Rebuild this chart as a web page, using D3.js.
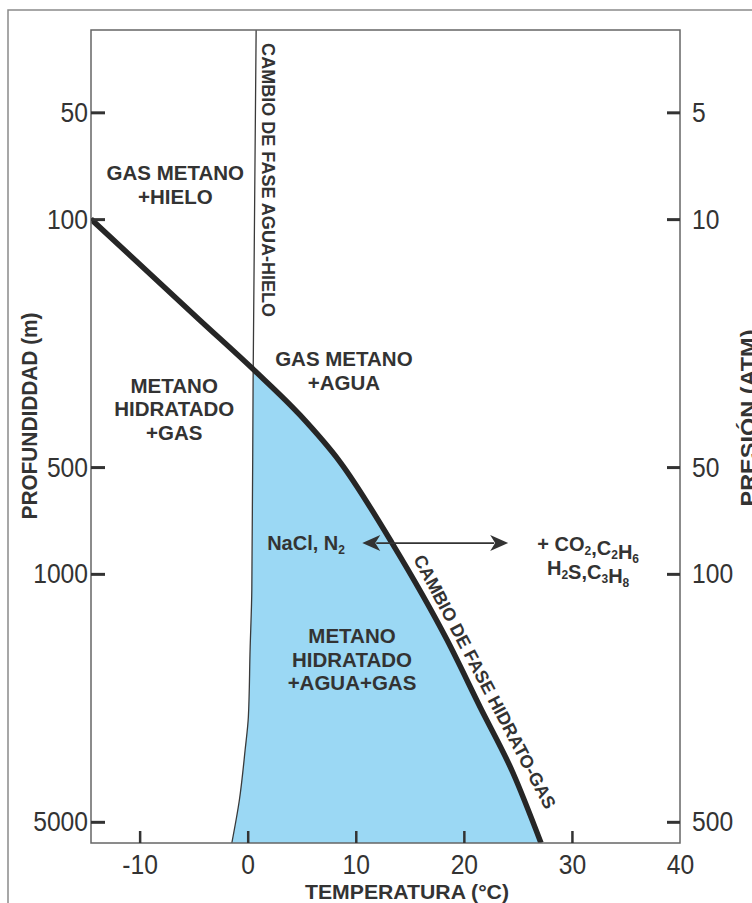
<!DOCTYPE html>
<html>
<head>
<meta charset="utf-8">
<script src="https://cdn.jsdelivr.net/npm/d3@7/dist/d3.min.js"></script>
<style>
  html,body{margin:0;padding:0;background:#fff;}
  svg{display:block;}
  .reg{font-family:"Liberation Sans",Arial,Helvetica,sans-serif;}
  .bold{font-family:"Liberation Sans",Arial,Helvetica,sans-serif;font-weight:bold;}
</style>
</head>
<body>
<script>
// ---------- data ----------
const tempTicks = [-10, 0, 10, 20, 30, 40];
const depthTicks = [50, 100, 500, 1000, 5000];
const pressureTicks = [5, 10, 50, 100, 500];

// hydrate-gas phase boundary (temperature °C, depth m)
const hydrateT     = [-14.5, -4.4, 0.68, 4.85, 8.55, 13.36, 18.45, 21.5, 24.55, 27.14];
const hydrateDepth = [100,   193,  268,  357,  484,  819,   1537,  2373, 3642,  5737];

// water-ice phase boundary
const iceT     = [0.78, 0.5, 0.38, 0.22, 0.06, -0.24, -0.77, -1.47];
const iceDepth = [29.3, 284, 1111, 1640, 2533, 3138,  4340,  5737];

const regionLabels = [
  {lines: ["GAS METANO", "+HIELO"], t: -6.7, d: 77.6},
  {lines: ["METANO", "HIDRATADO", "+GAS"], t: -6.8, d: 309},
  {lines: ["GAS METANO", "+AGUA"], t: 8.9, d: 260},
  {lines: ["METANO", "HIDRATADO", "+AGUA+GAS"], t: 9.65, d: 1567}
];

// ---------- layout ----------
const W = 752, H = 903;
const L = 91, R = 680, T = 30, B = 843;
const ink = "#333";

const x = d3.scaleLinear().domain([-14.5, 40]).range([L, R]);
const y = d3.scaleLog().domain([29.3, 5737]).range([T, B]);
const yP = d3.scaleLog().domain([2.93, 573.7]).range([T, B]);

const svg = d3.select("body").append("svg").attr("width", W).attr("height", H);

// outer frame
svg.append("rect").attr("x", 8).attr("y", 10).attr("width", 820).attr("height", 960)
  .attr("fill", "none").attr("stroke", "#8a8a8a").attr("stroke-width", 1.5);

const defs = svg.append("defs");
defs.append("clipPath").attr("id", "plotclip").append("rect")
  .attr("x", L).attr("y", T).attr("width", R - L).attr("height", B - T);

const hydrate = hydrateT.map((t, i) => ({t, d: hydrateDepth[i]}));
const ice = iceT.map((t, i) => ({t, d: iceDepth[i]}));

const hydLine = d3.line().x(p => x(p.t)).y(p => y(p.d)).curve(d3.curveMonotoneX);
const iceLine = d3.line().x(p => x(p.t)).y(p => y(p.d)).curve(d3.curveMonotoneY);

// region right of ice line
defs.append("clipPath").attr("id", "iceclip").append("path")
  .attr("d", iceLine(ice) + `L${R},${B}L${R},${T}Z`);

const g = svg.append("g").attr("clip-path", "url(#plotclip)");

// blue hydrate stability field: left of hydrate curve, right of ice line
g.append("path")
  .attr("d", hydLine(hydrate) + `L${L},${B}L${L},${y(hydrate[0].d)}Z`)
  .attr("fill", "#9bd8f4")
  .attr("clip-path", "url(#iceclip)");

// ice line
g.append("path").attr("d", iceLine(ice)).attr("fill", "none")
  .attr("stroke", "#3a3a3a").attr("stroke-width", 1.3);

// hydrate curve
g.append("path").attr("d", hydLine(hydrate)).attr("fill", "none")
  .attr("stroke", "#262626").attr("stroke-width", 5.5);

// plot frame
svg.append("rect").attr("x", L).attr("y", T).attr("width", R - L).attr("height", B - T)
  .attr("fill", "none").attr("stroke", "#666").attr("stroke-width", 1.5);

// condensed look (narrow face emulation)
function condense(sel, f) {
  sel.each(function() {
    const w = this.getComputedTextLength();
    d3.select(this).attr("textLength", w * f).attr("lengthAdjust", "spacingAndGlyphs");
  });
}

// axes
function styleAxis(sel, w) {
  sel.select(".domain").remove();
  sel.selectAll(".tick line").attr("stroke", ink).attr("stroke-width", w);
  const tx = sel.selectAll(".tick text").attr("class", "reg").attr("fill", ink).attr("font-size", 28);
  condense(tx, 0.88);
}
const fmt = d => String(d);
const ax = svg.append("g").attr("transform", `translate(0,${B})`)
  .call(d3.axisBottom(x).tickValues(tempTicks).tickSize(-12).tickPadding(11).tickFormat(fmt));
styleAxis(ax, 2.5);
ax.selectAll(".tick").filter(d => d === 40).select("line").remove();

const ay = svg.append("g").attr("transform", `translate(${L},0)`)
  .call(d3.axisLeft(y).tickValues(depthTicks).tickSize(-14).tickPadding(3).tickFormat(fmt));
styleAxis(ay, 3);

const ay2 = svg.append("g").attr("transform", `translate(${R},0)`)
  .call(d3.axisRight(yP).tickValues(pressureTicks).tickSize(-13).tickPadding(12).tickFormat(fmt));
styleAxis(ay2, 3);

// axis titles
svg.append("text").attr("class", "bold")
  .attr("font-size", 22).attr("fill", ink).attr("text-anchor", "middle")
  .attr("textLength", 207).attr("lengthAdjust", "spacingAndGlyphs")
  .attr("transform", `translate(37,416) rotate(-90)`).text("PROFUNDIDDAD (m)");
svg.append("text").attr("class", "bold")
  .attr("font-size", 22).attr("fill", ink).attr("text-anchor", "middle")
  .attr("textLength", 177).attr("lengthAdjust", "spacingAndGlyphs")
  .attr("transform", `translate(756,418) rotate(-90)`).text("PRESIÓN (ATM)");
svg.append("text").attr("class", "bold")
  .attr("font-size", 21).attr("fill", ink).attr("text-anchor", "middle")
  .attr("textLength", 204).attr("lengthAdjust", "spacingAndGlyphs")
  .attr("x", 407).attr("y", 899).text("TEMPERATURA (°C)");

// region labels
regionLabels.forEach(r => {
  const t = svg.append("text").attr("class", "bold").attr("font-size", 20.5)
    .attr("fill", ink).attr("text-anchor", "middle");
  r.lines.forEach((ln, i) => {
    t.append("tspan").attr("x", x(r.t)).attr("y", y(r.d) + i * 23.5).text(ln);
  });
});

// phase-change labels
svg.append("text").attr("class", "bold").attr("font-size", 18).attr("fill", ink)
  .attr("transform", `translate(${x(1.33)},${y(31.9)}) rotate(90)`)
  .attr("textLength", 274).attr("lengthAdjust", "spacingAndGlyphs")
  .text("CAMBIO DE FASE AGUA-HIELO");

svg.append("text").attr("class", "bold").attr("font-size", 18).attr("fill", ink)
  .attr("transform", `translate(${x(15.3)},${y(885) + 4}) rotate(62.2)`)
  .attr("textLength", 284).attr("lengthAdjust", "spacingAndGlyphs")
  .text("CAMBIO DE FASE HIDRATO-GAS");

// arrow (additives shifting the boundary)
const arrowD = 819;
const ay0 = y(arrowD);
const xa = x(10.6), xb = x(24.1);
svg.append("line").attr("x1", xa + 14).attr("x2", xb - 14).attr("y1", ay0).attr("y2", ay0)
  .attr("stroke", ink).attr("stroke-width", 1.6);
svg.append("path").attr("d", `M${xa},${ay0}L${xa + 18},${ay0 - 8}L${xa + 13},${ay0}L${xa + 18},${ay0 + 8}Z`).attr("fill", ink);
svg.append("path").attr("d", `M${xb},${ay0}L${xb - 18},${ay0 - 8}L${xb - 13},${ay0}L${xb - 18},${ay0 + 8}Z`).attr("fill", ink);

// chemical labels with subscripts
function chem(parts, px, py, anchor) {
  const t = svg.append("text").attr("class", "bold").attr("font-size", 20).attr("fill", ink)
    .attr("x", px).attr("y", py).attr("text-anchor", anchor);
  parts.forEach(p => {
    if (typeof p === "string") t.append("tspan").text(p);
    else {
      t.append("tspan").attr("font-size", 12).attr("dy", 4).text(p.sub);
      t.append("tspan").attr("dy", -4).text("");
    }
  });
  return t;
}
chem(["NaCl, N", {sub: "2"}], x(1.8), y(857), "start");
chem(["+ CO", {sub: "2"}, ",C", {sub: "2"}, "H", {sub: "6"}], x(31.5), y(861), "middle");
chem(["H", {sub: "2"}, "S,C", {sub: "3"}, "H", {sub: "8"}], x(31.5), y(1008), "middle");
</script>
</body>
</html>
